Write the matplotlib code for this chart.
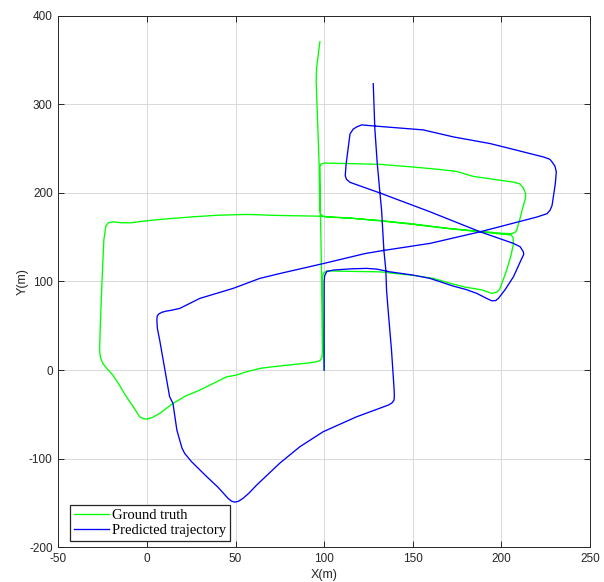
import matplotlib.pyplot as plt

# ground truth trajectory (m)
gt_x = [100, 99.6, 99.2, 99.0, 99.6, 101.7, 105.2, 118, 131.5, 150, 161.6, 172, 180.4, 184.2,
        189, 194.6, 197.5, 199, 203, 205.5, 206.8, 206.6, 205.5, 200, 188, 170, 150.3, 131.5,
        115, 98, 75, 56.2, 40, 26, 10, -0.3, -8.8, -14.5, -19.2, -21.8, -23.2, -24.3, -25.4,
        -26.3, -26.7, -26.2, -24.9, -22.5, -19.2, -15.5, -11.6, -7.5, -4.1, -1.8, 0, 3.0, 7.2,
        14.7, 22, 29.8, 38, 44.9, 50.5, 56, 63.7, 71.2, 82, 91.9, 95.7, 97.8, 98.8, 99.0, 98.8,
        98.5, 98.2, 97.9, 97.7, 97.6, 98.2, 100.4, 115, 131.5, 150.3, 165, 174.8, 184.2, 195,
        206.8, 210.3, 212.3, 213.7, 213.5, 212.4, 210.5, 208.6, 207.6, 205.5, 200, 188, 170,
        150, 131.5, 115, 102, 99.3, 97.9, 97.5, 97.2, 96.5, 95.9, 95.5, 95.7, 96.6, 97.6]
gt_y = [0, 30, 70, 104, 109.5, 112.1, 111.8, 111.3, 110.9, 107, 103.5, 97.5, 93.3, 92.2,
        90.5, 86.6, 88.0, 91, 112.9, 130, 142.7, 149.5, 152.6, 153.5, 156.1, 159.7, 164.4,
        168.5, 171.5, 173.7, 174.5, 175.7, 174.8, 173, 170.5, 168.5, 166.3, 166.3, 167.4,
        166.2, 162.4, 146.7, 97.8, 50, 22.6, 14, 7.6, 1.5, -5.6, -17, -30.1, -42, -52.7,
        -55, -55.3, -53.5, -48.9, -37.6, -29, -22.6, -14.5, -7.6, -5.6, -2.0, 1.9, 3.8, 6.2,
        8.2, 9.4, 11, 14.5, 22.6, 60, 109, 146.7, 177.2, 225, 229.2, 232.5, 233.7, 233.0,
        232.2, 229.2, 226.5, 224.2, 218.6, 215.5, 212.2, 210.3, 206.0, 199.1, 193.0, 185.9,
        171, 157.7, 155.3, 153.9, 154.5, 156.6, 160, 165, 168.8, 171.5, 172.6, 173.6, 176,
        182, 230, 270, 302.8, 325.4, 340, 355, 370.6]

# predicted trajectory (m)
pr_x = [100, 100, 100, 100.3, 101.5, 105.2, 115, 124, 129.6, 137.1, 150, 159.7, 172.9, 180,
        186.1, 191.7, 194.6, 196.8, 198.3, 202, 206.8, 211.5, 212.6, 212.4, 210.6, 206.8,
        188, 159.7, 131.5, 114.6, 112.6, 111.9, 112.4, 114.6, 116.4, 118.5, 121.2, 127.7,
        155.9, 172.9, 193.6, 206.8, 223.8, 227.3, 228.6, 230.2, 231, 230.4, 228.6, 227.5,
        225.7, 220.1, 188, 159.7, 132.4, 123, 99.4, 75, 63.7, 48.6, 29.8, 18.5, 13.5, 11,
        8.5, 6.8, 5.8, 5.6, 5.9, 7.2, 12.8, 14.7, 16.9, 18.5, 19.8, 21.3, 25, 33.6, 40, 45.8,
        47.8, 49.5, 51.5, 54.2, 57.5, 61.8, 75, 86.3, 99.4, 118.3, 136.2, 138.3, 139.4, 139.6,
        139.5, 138, 136.1, 135.2, 134.8, 133.7, 132.4, 131.5, 129.9, 128.6, 127.7]
pr_y = [0, 50, 100, 106.5, 111.3, 112.9, 114.3, 114.8, 114.0, 110.9, 107.3, 103.5, 94.8,
        91, 86.6, 80.9, 78.2, 78.5, 80.9, 90.5, 105.3, 126, 130.5, 133.5, 139.2, 143, 156.1,
        178.7, 199.9, 211.9, 215.3, 219.4, 232.6, 266.6, 272.0, 274.6, 276.8, 275.6, 271.1,
        263.2, 255.7, 249.1, 240.5, 238.0, 234.9, 230.3, 223.6, 210, 185.9, 180.5, 176.5,
        172.8, 156.1, 143, 134.7, 131.5, 120.2, 109, 103.5, 92.2, 80.9, 69.6, 67.4, 66.6,
        65.3, 63.5, 61.0, 56.4, 47, 33.9, -30, -37.6, -67.7, -79, -88, -94, -103, -120, -132,
        -144.8, -148, -149, -148.2, -144.8, -139, -130, -105, -86.5, -69.6, -52.7, -39.5,
        -37, -34, -30, -22.6, 22.6, 67.7, 90.3, 112.9, 135.4, 180.6, 199.4, 234.9, 272.5, 323.3]

x_ticks = [-50, 0, 50, 100, 150, 200, 250]
y_ticks = [-200, -100, 0, 100, 200, 300, 400]

plt.rcParams["font.family"] = ["Liberation Sans", "DejaVu Sans"]
plt.rcParams["axes.unicode_minus"] = False
fig = plt.figure(figsize=(6.04, 5.82), dpi=100)
ax = fig.add_axes([58.3 / 604, 1 - 547.3 / 582, (590 - 58.3) / 604, (547.3 - 15.7) / 582])

ax.plot(gt_x, gt_y, color="#00ff00", lw=0.95, label="Ground truth", solid_joinstyle="round")
ax.plot(pr_x, pr_y, color="#0000ff", lw=0.95, label="Predicted trajectory", solid_joinstyle="round")

ax.set_xlim(-50, 250)
ax.set_ylim(-200, 400)
ax.set_xticks(x_ticks)
ax.set_yticks(y_ticks)
ax.grid(True, color="#d9d9d9", lw=0.7)
ax.set_axisbelow(True)
for s in ax.spines.values():
    s.set_color("#262626")
    s.set_linewidth(0.7)
ax.tick_params(direction="in", length=4, width=0.7, colors="#262626", labelsize=8.5,
               top=True, right=True, pad=4)
ax.set_xlabel("X(m)", fontsize=9, color="#262626", labelpad=3)
ax.set_ylabel("Y(m)", fontsize=9, color="#262626", labelpad=0)

leg = ax.legend(loc="lower left", bbox_to_anchor=(0.022, 0.012),
                prop={"family": "Liberation Serif", "size": 10.5},
                handlelength=2.4, handletextpad=0.25, borderpad=0.25, labelspacing=0.15,
                borderaxespad=0, fancybox=False, framealpha=1)
leg.get_frame().set_edgecolor("#262626")
leg.get_frame().set_linewidth(0.9)

fig.savefig("out.png", dpi=100)
